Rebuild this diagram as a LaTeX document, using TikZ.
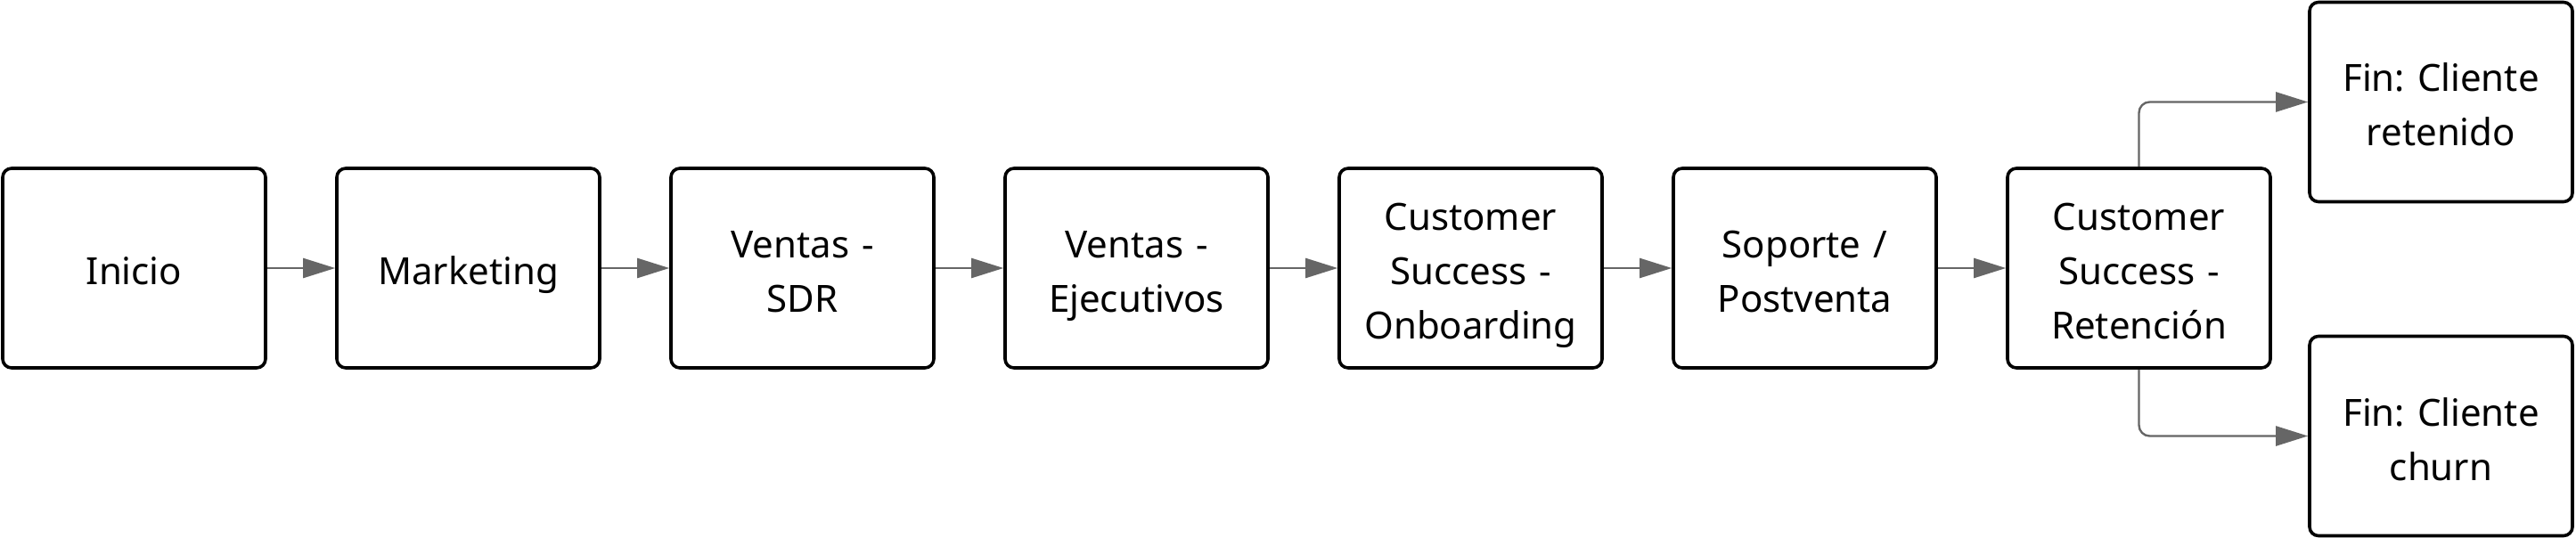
\documentclass[tikz,border=0pt]{standalone}
\usepackage{fontspec}
\setmainfont{Noto Sans}
\usetikzlibrary{positioning,arrows.meta}
\begin{document}
\begin{tikzpicture}
\tikzstyle{stepbox}=[draw=black, line width=1.8pt, rounded corners=5pt, minimum width=147.5pt, minimum height=112pt, text width=140pt, align=center, inner sep=0pt, font=\fontsize{21pt}{30.5pt}\selectfont\frenchspacing, execute at begin node={\rule{0pt}{26pt}}, execute at end node={\rule[-7pt]{0pt}{7pt}}]
\tikzstyle{link}=[draw=black!60, line width=1.2pt, -{Triangle[length=18pt,width=11pt]}]
\useasboundingbox (0,0) rectangle (1445.5pt,-302pt);
\node [stepbox] (inicio) at (75.25pt,-150.5pt) {Inicio};
\node [stepbox, right=38.2pt of inicio] (marketing) {Marketing};
\node [stepbox, right=38.2pt of marketing] (sdr) {Ventas -\\SDR};
\node [stepbox, right=38.2pt of sdr] (ejecutivos) {Ventas -\\Ejecutivos};
\node [stepbox, right=38.2pt of ejecutivos] (onboarding) {Customer\\Success -\\Onboarding};
\node [stepbox, right=38.2pt of onboarding] (soporte) {Soporte /\\Postventa};
\node [stepbox, right=38.2pt of soporte] (retencion) {Customer\\Success -\\Retención};
\node [stepbox] (retenido) at (1369.75pt,-57.25pt) {Fin: Cliente\\retenido};
\node [stepbox] (churn) at (1369.75pt,-244.75pt) {Fin: Cliente\\churn};
\draw [link] (inicio) -- (marketing);
\draw [link] (marketing) -- (sdr);
\draw [link] (sdr) -- (ejecutivos);
\draw [link] (ejecutivos) -- (onboarding);
\draw [link] (onboarding) -- (soporte);
\draw [link] (soporte) -- (retencion);
\draw [link, rounded corners=6pt] (retencion.north) |- (retenido.west);
\draw [link, rounded corners=6pt] (retencion.south) |- (churn.west);
\end{tikzpicture}
\end{document}
